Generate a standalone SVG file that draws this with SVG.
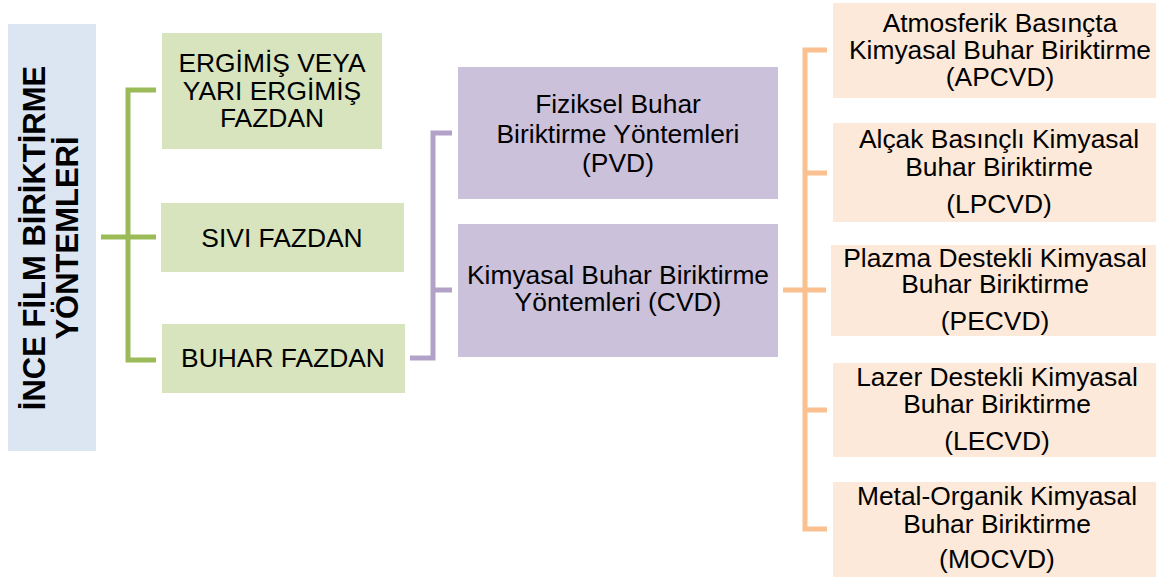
<svg xmlns="http://www.w3.org/2000/svg" width="1156" height="582" viewBox="0 0 1156 582">
<style>
text{font-family:"Liberation Sans",Arial,sans-serif;font-size:26.4px;fill:#000;text-anchor:middle}
.title{font-weight:bold;font-size:31px}
.blue{fill:#DCE6F2}
.green{fill:#D7E4BD}
.purple{fill:#CCC1DA}
.orange{fill:#FDE9D9}
.cg{fill:none;stroke:#9BBB59;stroke-width:5}
.cp{fill:none;stroke:#B3A2C7;stroke-width:5}
.co{fill:none;stroke:#FAC090;stroke-width:5}
</style>
<rect width="1156" height="582" fill="#fff"/>
<g id="connectors">
<path class="cg" d="M101,237H156M156,90H128V360H156"/>
<path class="cp" d="M452,133H433V358H410M433,290H452"/>
<path class="co" d="M783,290H826M827,50H805V529H827M805,173H827M805,410H827"/>
</g>
<g id="root">
<rect class="blue" x="8" y="24" width="88" height="427"/>
<text class="title" transform="translate(45,238) rotate(-90)">İNCE FİLM BİRİKTİRME</text>
<text class="title" transform="translate(78,238) rotate(-90)">YÖNTEMLERİ</text>
</g>
<g id="ergimis">
<rect class="green" x="162" y="33" width="220" height="116"/>
<text x="272" y="72">ERGİMİŞ VEYA</text>
<text x="272" y="100">YARI ERGİMİŞ</text>
<text x="272" y="127">FAZDAN</text>
</g>
<g id="sivi">
<rect class="green" x="161" y="203" width="243" height="69"/>
<text x="282" y="247">SIVI FAZDAN</text>
</g>
<g id="buhar">
<rect class="green" x="162" y="324" width="243" height="69"/>
<text x="283" y="367">BUHAR FAZDAN</text>
</g>
<g id="pvd">
<rect class="purple" x="458" y="67" width="320" height="132"/>
<text x="618" y="113">Fiziksel Buhar</text>
<text x="618" y="143">Biriktirme Yöntemleri</text>
<text x="618" y="172">(PVD)</text>
</g>
<g id="cvd">
<rect class="purple" x="458" y="224" width="320" height="133"/>
<text x="618" y="284">Kimyasal Buhar Biriktirme</text>
<text x="618" y="311">Yöntemleri (CVD)</text>
</g>
<g id="apcvd">
<rect class="orange" x="833" y="3" width="323" height="95"/>
<text x="1000" y="32">Atmosferik Basınçta</text>
<text x="1000" y="59">Kimyasal Buhar Biriktirme</text>
<text x="1000" y="86">(APCVD)</text>
</g>
<g id="lpcvd">
<rect class="orange" x="833" y="123" width="323" height="99"/>
<text x="999" y="148">Alçak Basınçlı Kimyasal</text>
<text x="999" y="176">Buhar Biriktirme</text>
<text x="999" y="213">(LPCVD)</text>
</g>
<g id="pecvd">
<rect class="orange" x="831" y="245" width="325" height="91"/>
<text x="995" y="267">Plazma Destekli Kimyasal</text>
<text x="995" y="293">Buhar Biriktirme</text>
<text x="995" y="330">(PECVD)</text>
</g>
<g id="lecvd">
<rect class="orange" x="833" y="363" width="323" height="94"/>
<text x="997" y="386">Lazer Destekli Kimyasal</text>
<text x="997" y="413">Buhar Biriktirme</text>
<text x="997" y="450">(LECVD)</text>
</g>
<g id="mocvd">
<rect class="orange" x="833" y="482" width="323" height="95"/>
<text x="997" y="505">Metal-Organik Kimyasal</text>
<text x="997" y="533">Buhar Biriktirme</text>
<text x="997" y="568">(MOCVD)</text>
</g>
</svg>
